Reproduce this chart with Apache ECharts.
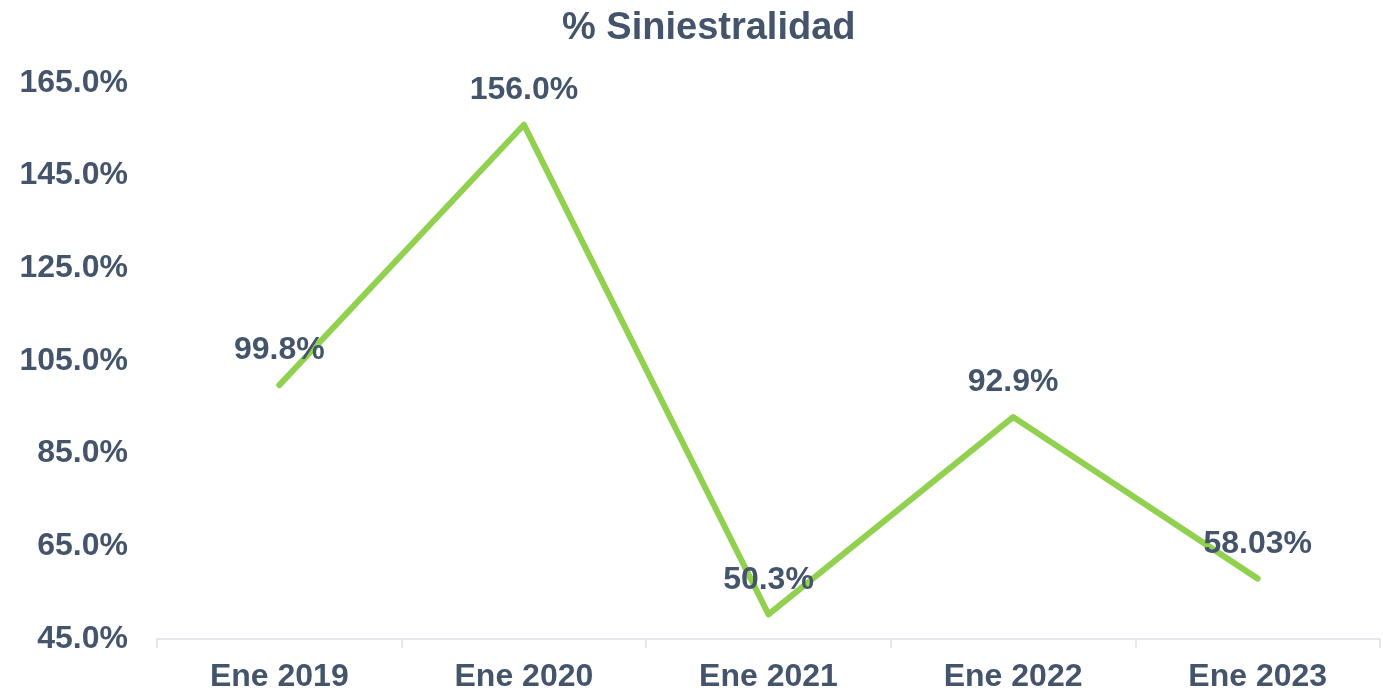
<!DOCTYPE html>
<html>
<head>
<meta charset="utf-8">
<script src="https://cdn.jsdelivr.net/npm/echarts@6/dist/echarts.min.js"></script>
<style>
  html, body { margin: 0; padding: 0; background: #fff; }
  #chart { width: 1383px; height: 693px; }
</style>
</head>
<body>
<div id="chart"></div>
<script>
const categories = ['Ene 2019', 'Ene 2020', 'Ene 2021', 'Ene 2022', 'Ene 2023']
const siniestralidad = [99.8, 156.0, 50.3, 92.9, 58.03]
const labelTexts = ['99.8%', '156.0%', '50.3%', '92.9%', '58.03%']

const textColor = '#44546A'
const font = 'Liberation Sans, Arial, sans-serif'

const myChart = echarts.init(document.getElementById('chart'))

myChart.setOption({
    animation: false,
    title: {
        text: '% Siniestralidad',
        left: 557,
        top: 5,
        textStyle: { color: textColor, fontSize: 38, fontWeight: 'bold', fontFamily: font }
    },
    grid: { left: 157, right: 3, top: 83, bottom: 54 },
    xAxis: {
        type: 'category',
        data: categories,
        boundaryGap: true,
        axisLine: { lineStyle: { color: '#DDE1E8', width: 1.5 } },
        axisTick: { show: true, length: 9, lineStyle: { color: '#DDE1E8', width: 1.5 } },
        axisLabel: { color: textColor, fontSize: 32, fontWeight: 'bold', fontFamily: font, margin: 22 }
    },
    yAxis: {
        type: 'value',
        min: 45,
        max: 165,
        interval: 20,
        axisLine: { show: false },
        axisTick: { show: false },
        splitLine: { show: false },
        axisLabel: {
            color: textColor, fontSize: 32, fontWeight: 'bold', fontFamily: font, margin: 29,
            formatter: v => v.toFixed(1) + '%'
        }
    },
    series: [{
        type: 'line',
        data: siniestralidad,
        symbol: 'circle',
        symbolSize: 1,
        showSymbol: true,
        itemStyle: { color: 'rgba(0,0,0,0)' },
        lineStyle: { color: '#92D050', width: 6, cap: 'round', join: 'round' },
        label: {
            show: true,
            position: 'top',
            distance: 18,
            color: textColor,
            fontSize: 32,
            fontWeight: 'bold',
            fontFamily: font,
            formatter: p => labelTexts[p.dataIndex]
        }
    }]
})
</script>
</body>
</html>
